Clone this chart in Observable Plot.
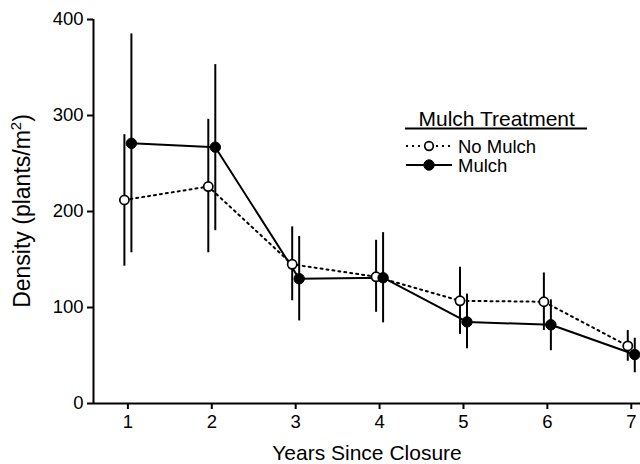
<!DOCTYPE html>
<html><head><meta charset="utf-8">
<script src="https://cdn.jsdelivr.net/npm/d3@7"></script>
<script src="https://cdn.jsdelivr.net/npm/@observablehq/plot@0.6"></script>
<style>
body{margin:0;background:#fff;font-family:"Liberation Sans",Arial,Helvetica,sans-serif;}
#wrap{position:relative;width:640px;height:464px;overflow:hidden;}
#legend{position:absolute;left:0;top:0;pointer-events:none;}
</style></head><body><div id="wrap"></div>
<script>
const years = [1, 2, 3, 4, 5, 6, 7];
const noMulchMean = [212, 226, 145, 132, 107, 106, 60];
const noMulchLow  = [143, 157, 107, 95, 72, 76, 44];
const noMulchHigh = [280, 296, 184, 170, 142, 136, 76];
const mulchMean = [271, 267, 130, 131, 85, 82, 51];
const mulchLow  = [157, 180, 86, 84, 57, 55, 32];
const mulchHigh = [385, 353, 174, 178, 114, 108, 68];
const xTicks = [1, 2, 3, 4, 5, 6, 7];
const yTicks = [0, 100, 200, 300, 400];
const xDomain = [0.59, 7.11];
const yDomain = [0, 400];
const seriesNames = ["No Mulch", "Mulch"];
const legendTitle = "Mulch Treatment";
const xLabel = "Years Since Closure";
const yLabelMain = "Density (plants/m";
const yLabelSup = "2";
const yLabelEnd = ")";

const noMulch = years.map((x, i) => ({x, y: noMulchMean[i], lo: noMulchLow[i], hi: noMulchHigh[i]}));
const mulch = years.map((x, i) => ({x, y: mulchMean[i], lo: mulchLow[i], hi: mulchHigh[i]}));

const font = '"Liberation Sans", Arial, Helvetica, sans-serif';
const off = 3.5;
const chart = Plot.plot({
  width: 640, height: 464,
  marginLeft: 93, marginRight: 0, marginTop: 19, marginBottom: 61,
  style: {fontFamily: font, color: "#000", background: "#fff", overflow: "visible"},
  x: {domain: xDomain},
  y: {domain: yDomain},
  marks: [
    Plot.ruleX(noMulch, {x: "x", y1: "lo", y2: "hi", dx: -off, stroke: "#000", strokeWidth: 2}),
    Plot.ruleX(mulch, {x: "x", y1: "lo", y2: "hi", dx: off, stroke: "#000", strokeWidth: 2}),
    Plot.line(noMulch, {x: "x", y: "y", dx: -off, stroke: "#000", strokeWidth: 2, strokeDasharray: "2 4"}),
    Plot.line(mulch, {x: "x", y: "y", dx: off, stroke: "#000", strokeWidth: 2}),
    Plot.dot(noMulch, {x: "x", y: "y", dx: -off, r: 4.6, fill: "#fff", stroke: "#000", strokeWidth: 1.7}),
    Plot.dot(mulch, {x: "x", y: "y", dx: off, r: 5.2, fill: "#000", stroke: "#000", strokeWidth: 1}),
    Plot.ruleY([0], {stroke: "#000", strokeWidth: 2}),
    Plot.ruleX([xDomain[0]], {y1: yDomain[0], y2: yDomain[1], stroke: "#000", strokeWidth: 2}),
    Plot.axisX({ticks: xTicks, tickSize: 6, tickPadding: 5, fontSize: 18.5, label: null, strokeWidth: 2, tickFormat: d => String(d)}),
    Plot.axisY({ticks: yTicks, tickSize: 6, tickPadding: 4, fontSize: 18.5, label: null, strokeWidth: 2, tickFormat: d => String(d)}),
    Plot.text([xLabel], {text: d => d, frameAnchor: "bottom", dy: 50, fontSize: 21, lineAnchor: "middle", textAnchor: "middle"})
  ]
});
const wrap = document.getElementById("wrap");
wrap.appendChild(chart);

// overlay: y-axis title with superscript, and legend
const ns = "http://www.w3.org/2000/svg";
const lg = d3.select(wrap).append(() => document.createElementNS(ns, "svg"))
  .attr("id", "legend").attr("width", 640).attr("height", 464)
  .attr("font-family", font);

const yt = lg.append("text").attr("transform", "translate(30,211) rotate(-90)")
  .attr("text-anchor", "middle").attr("font-size", 23);
yt.append("tspan").text(yLabelMain);
yt.append("tspan").attr("font-size", 15).attr("dy", -9).text(yLabelSup);
yt.append("tspan").attr("dy", 9).text(yLabelEnd);

lg.append("text").attr("x", 496.7).attr("y", 126.3).attr("text-anchor", "middle")
  .attr("font-size", 21).text(legendTitle);
lg.append("line").attr("x1", 405).attr("x2", 587).attr("y1", 128.5).attr("y2", 128.5)
  .attr("stroke", "#000").attr("stroke-width", 2);
const rowsY = [146, 165];
seriesNames.forEach((name, i) => {
  const y = rowsY[i];
  lg.append("line").attr("x1", 406).attr("x2", 452).attr("y1", y).attr("y2", y)
    .attr("stroke", "#000").attr("stroke-width", 2)
    .attr("stroke-dasharray", i === 0 ? "2 4" : null);
  lg.append("circle").attr("cx", 429).attr("cy", y).attr("r", i === 0 ? 4.3 : 5.2)
    .attr("fill", i === 0 ? "#fff" : "#000").attr("stroke", "#000").attr("stroke-width", i === 0 ? 1.7 : 1);
  lg.append("text").attr("x", 458).attr("y", y + 6.5).attr("font-size", 18.5).text(name);
});
</script></body></html>
